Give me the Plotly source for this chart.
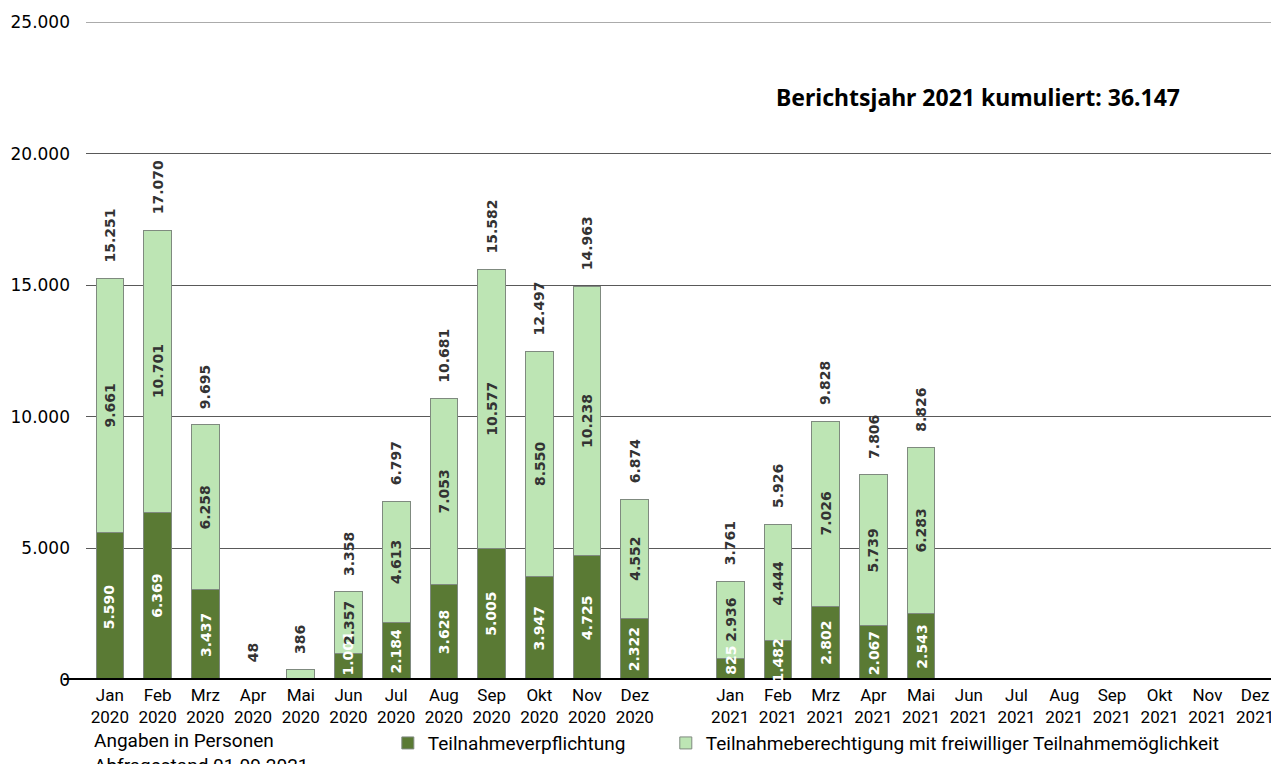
import plotly.graph_objects as go

months = ["Jan", "Feb", "Mrz", "Apr", "Mai", "Jun", "Jul", "Aug", "Sep", "Okt", "Nov", "Dez"]
years = ["2020", "2021"]

pflicht_2020 = [5590, 6369, 3437, 0, 0, 1001, 2184, 3628, 5005, 3947, 4725, 2322]
freiw_2020 = [9661, 10701, 6258, 48, 386, 2357, 4613, 7053, 10577, 8550, 10238, 4552]
pflicht_2021 = [825, 1482, 2802, 2067, 2543, None, None, None, None, None, None, None]
freiw_2021 = [2936, 4444, 7026, 5739, 6283, None, None, None, None, None, None, None]

y_ticks = [0, 5000, 10000, 15000, 20000, 25000]

DARK = "#5a7a34"
LIGHT = "#bde5b4"
EDGE = "#7f8a7f"
NARROW = "Roboto, Noto Sans"


def fmt(v):
    return f"{v:,}".replace(",", ".")


cats = [f"{m}<br>{years[0]}" for m in months] + [" "] + [f"{m}<br>{years[1]}" for m in months]
pflicht = pflicht_2020 + [None] + pflicht_2021
freiw = freiw_2020 + [None] + freiw_2021
totals = [None if (a is None and b is None) else (a or 0) + (b or 0) for a, b in zip(pflicht, freiw)]

fig = go.Figure()
fig.add_trace(go.Bar(
    x=cats, y=pflicht, name="Teilnahmeverpflichtung",
    marker=dict(color=DARK, line=dict(color=EDGE, width=1)),
    hoverinfo="x+y", legend="legend",
))
fig.add_trace(go.Bar(
    x=cats, y=freiw, name="Teilnahmeberechtigung mit freiwilliger Teilnahmemöglichkeit",
    marker=dict(color=LIGHT, line=dict(color=EDGE, width=1)),
    hoverinfo="x+y", legend="legend2",
))

label_font = dict(family="DejaVu Sans", size=14, weight="bold")

# segment labels (drawn on top so overflowing text stays visible)
for c, a, b in zip(cats, pflicht, freiw):
    if a is not None and a >= 500:
        if a < 1200:
            # small segment: keep the label above the baseline
            fig.add_annotation(x=c, y=0, text=fmt(a), textangle=-90, showarrow=False,
                               yanchor="bottom", xanchor="center", yshift=3,
                               font=dict(label_font, color="white"))
        else:
            fig.add_annotation(x=c, y=a / 2, text=fmt(a), textangle=-90, showarrow=False,
                               yanchor="middle", xanchor="center",
                               font=dict(label_font, color="white"))
    if b is not None and b >= 500:
        fig.add_annotation(x=c, y=(a or 0) + b / 2, text=fmt(b), textangle=-90, showarrow=False,
                           yanchor="middle", xanchor="center",
                           font=dict(label_font, color="#333333"))

# totals above bars
for c, t in zip(cats, totals):
    if t is None:
        continue
    fig.add_annotation(
        x=c, y=t, text=fmt(t), textangle=-90, showarrow=False,
        yanchor="bottom", xanchor="center", yshift=14,
        font=dict(label_font, color="#333333"),
    )

total_2021 = sum(t for t, c in zip(totals, cats) if c.endswith("2021") and t is not None)
fig.add_annotation(
    xref="paper", yref="paper", x=0.919, y=0.886, xanchor="right", yanchor="middle",
    text=f"Berichtsjahr 2021 kumuliert: {fmt(total_2021)}", showarrow=False,
    font=dict(family="Noto Sans", size=23, color="black", weight="bold"),
)

fig.add_annotation(
    xref="paper", yref="paper", x=0.005, y=-0.072, xanchor="left", yanchor="top",
    align="left", showarrow=False,
    text="Angaben in Personen<br>Abfragestand 01.09.2021",
    font=dict(family=NARROW, size=19, color="black"),
)

# top gridline and thick zero line
fig.add_shape(type="line", xref="paper", yref="y", x0=0, x1=1, y0=y_ticks[-1], y1=y_ticks[-1],
              line=dict(color="#595959", width=1))
fig.add_shape(type="line", xref="paper", yref="y", x0=-0.019, x1=1, y0=0, y1=0,
              line=dict(color="black", width=4), layer="above")

legend_common = dict(
    orientation="h", yanchor="top", xanchor="left", y=-0.067,
    font=dict(family=NARROW, size=19, color="black"),
    itemwidth=30, bgcolor="rgba(0,0,0,0)",
)

# the page body has an 8px margin; the figure is sized so the plot area lands where intended
fig.update_layout(
    width=1271, height=756,
    margin=dict(l=78, r=0, t=14, b=84, autoexpand=False),
    barmode="stack", bargap=0.42,
    plot_bgcolor="white", paper_bgcolor="white",
    showlegend=True,
    legend=dict(legend_common, x=0.253),
    legend2=dict(legend_common, x=0.486),
    xaxis=dict(
        type="category", categoryorder="array", categoryarray=cats,
        showgrid=False, showline=False, ticks="", automargin=False,
        tickfont=dict(family=NARROW, size=17, color="black"),
        tickangle=0, ticklabelstandoff=3,
    ),
    yaxis=dict(
        range=[0, y_ticks[-1]], tickvals=y_ticks, ticktext=[fmt(v) for v in y_ticks],
        showgrid=True, gridcolor="#595959", gridwidth=1, zeroline=False,
        showline=False, ticks="", ticklabelstandoff=15, automargin=False,
        tickfont=dict(family="DejaVu Sans", size=17, color="black"),
    ),
)

fig.write_html("out.html")
